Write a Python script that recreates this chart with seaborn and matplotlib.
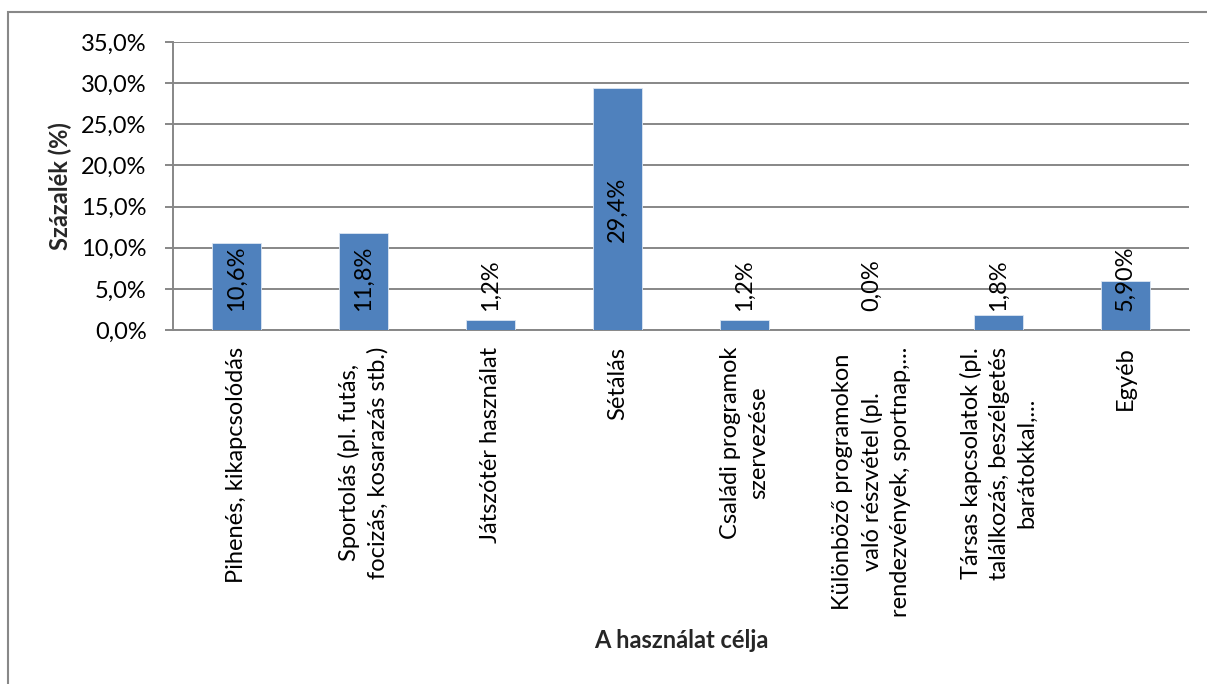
import matplotlib
matplotlib.use("Agg")
import matplotlib.pyplot as plt
import seaborn as sns
import pandas as pd
from matplotlib.ticker import FuncFormatter
from matplotlib.patches import Rectangle

categories = [
    "Pihenés, kikapcsolódás",
    "Sportolás (pl. futás,\nfocizás, kosarazás stb.)",
    "Játszótér használat",
    "Sétálás",
    "Családi programok\nszervezése",
    "Különböző programokon\nvaló részvétel (pl.\nrendezvények, sportnap,...",
    "Társas kapcsolatok (pl.\ntalálkozás, beszélgetés\nbarátokkal,...",
    "Egyéb",
]
values = [10.6, 11.8, 1.2, 29.4, 1.2, 0.0, 1.8, 5.9]
value_labels = ["10,6%", "11,8%", "1,2%", "29,4%", "1,2%", "0,0%", "1,8%", "5,90%"]
y_ticks = [0, 5, 10, 15, 20, 25, 30, 35]

sns.set_theme(style="white")
plt.rcParams["font.family"] = ["Lato", "DejaVu Sans"]

FS = 17
W, H = 1207, 684
fig = plt.figure(figsize=(W / 100, H / 100), dpi=100)
ax = fig.add_axes([173 / W, 1 - 330 / H, (1189 - 173) / W, (330 - 42) / H])

df = pd.DataFrame({"cat": categories, "val": values})
sns.barplot(data=df, x="cat", y="val", color="#4F81BD", width=0.39, ax=ax,
            saturation=1, edgecolor="#DCE6F2", linewidth=0.6, zorder=3)

GRID = "#878787"
ax.set_ylim(0, 35)
ax.set_xlim(-0.5, len(categories) - 0.5)
ax.set_yticks(y_ticks)
ax.yaxis.set_major_formatter(FuncFormatter(lambda v, p: f"{v:.1f}%".replace(".", ",")))
ax.grid(axis="y", color=GRID, linewidth=1.4, zorder=0)
ax.set_axisbelow(True)
for s in ["top", "right"]:
    ax.spines[s].set_visible(False)
for s in ["left", "bottom"]:
    ax.spines[s].set_color(GRID)
    ax.spines[s].set_linewidth(1.4)
ax.tick_params(axis="y", length=6, width=1.4, color=GRID, pad=13, labelsize=FS, labelcolor="black", left=True)
ax.tick_params(axis="x", length=0, pad=12, labelsize=FS, labelcolor="black")
for lbl in ax.get_xticklabels():
    lbl.set_rotation(90)
    lbl.set_ha("center")
    lbl.set_va("top")
    lbl.set_multialignment("center")
    lbl.set_linespacing(1.4)
ax.set_xlabel("")
ax.set_ylabel("")

fig.text(60 / W, 1 - 186 / H, "Százalék (%)", rotation=90, ha="center", va="center",
         fontsize=FS, fontweight="bold")
fig.text(681 / W, 1 - 640 / H, "A használat célja", ha="center", va="center",
         fontsize=FS, fontweight="bold")

# data labels: centered in bar, but not lower than a minimum offset above axis
texts = []
for i, (v, lab) in enumerate(zip(values, value_labels)):
    t = ax.text(i, v / 2, lab, rotation=90, ha="center", va="center", fontsize=FS,
                color="black", zorder=5)
    texts.append(t)
fig.canvas.draw()
r = fig.canvas.get_renderer()
y_axis_disp = ax.transData.transform((0, 0))[1]
min_bottom = y_axis_disp + 19
for i, t in enumerate(texts):
    bb = t.get_window_extent(r)
    if bb.y0 < min_bottom:
        shift = min_bottom - bb.y0
        cx, cy = ax.transData.transform((i, values[i] / 2))
        _, new_y = ax.transData.inverted().transform((cx, cy + shift))
        t.set_y(new_y)

# outer chart border
fig.patches.append(Rectangle((8 / W, -0.05), 1.2, (1 - 12 / H) + 0.05, transform=fig.transFigure,
                             fill=False, edgecolor="#888888", linewidth=1.5, figure=fig))

fig.savefig("out.png", dpi=100, facecolor="white")
